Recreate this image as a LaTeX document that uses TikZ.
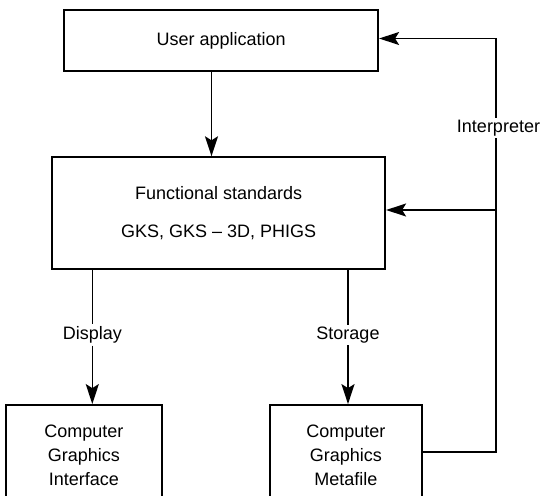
\documentclass[tikz,border=0pt]{standalone}
\usepackage{fontspec}
\setmainfont{Liberation Sans}
\usetikzlibrary{arrows.meta}
\begin{document}
\begin{tikzpicture}[x=1pt,y=-1pt,line width=1.6pt,
  every node/.style={font=\fontsize{18}{24}\selectfont},
  box/.style={draw,line width=1.8pt,inner sep=0pt,align=center},
  tag/.style={fill=white,inner sep=1.5pt},
  flow/.style={-{Stealth[length=20pt,width=13pt,inset=4pt]}}]
  \clip (0,0) rectangle (542,496);
  \useasboundingbox (0,0) rectangle (542,496);

  % boxes
  \node[box,minimum width=314pt,minimum height=61pt] (app) at (221.2,40.5) {User application};
  \node[box,minimum width=333pt,minimum height=112pt,
        font=\fontsize{18}{38}\selectfont] (fun) at (218.7,213.2)
        {Functional standards\\GKS, GKS -- 3D, PHIGS};
  \node[box,minimum width=156pt,minimum height=100pt] (cgi) at (83.9,455)
        {Computer\\Graphics\\Interface};
  \node[box,minimum width=152pt,minimum height=100pt] (cgm) at (345.9,455)
        {Computer\\Graphics\\Metafile};

  % labels on the downward flows
  \node[tag] (disp) at (92.3,335) {Display};
  \node[tag] (stor) at (348,335) {Storage};

  % main flow
  \draw[flow] (app.south -| 211.5,0) -- (fun.north -| 211.5,0);
  \draw (fun.south -| disp) -- (disp.north);
  \draw[flow] (disp.south) -- (cgi.north -| disp);
  \draw (fun.south -| stor) -- (stor.north);
  \draw[flow] (stor.south) -- (cgm.north -| stor);

  % interpreter feedback loop
  \coordinate (top) at (496,38.5);
  \coordinate (mid) at (496,210);
  \coordinate (low) at (496,452);
  \draw[flow] (cgm.east |- low) -- (low) -- (top) -- (app.east |- top);
  \draw[flow] (mid) -- (fun.east |- mid);
  \node[tag] (interp) at (498.5,128) {Interpreter};
\end{tikzpicture}
\end{document}
